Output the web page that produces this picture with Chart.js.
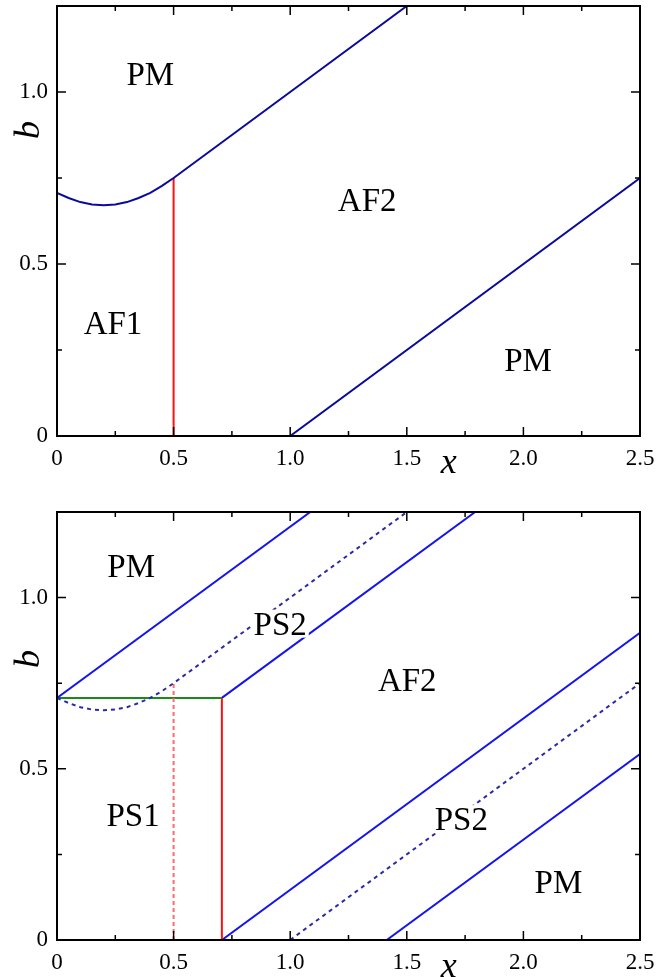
<!DOCTYPE html>
<html>
<head>
<meta charset="utf-8">
<script src="https://cdn.jsdelivr.net/npm/chart.js@4"></script>
<style>
  body { margin: 0; background: #fff; }
  canvas { position: absolute; left: 0; }
  #top { top: 0; }
  #bottom { top: 490px; }
</style>
</head>
<body>
<canvas id="top" width="672" height="490"></canvas>
<canvas id="bottom" width="672" height="487"></canvas>
<script>
// ticks
const xTicks = [0, 0.5, 1.0, 1.5, 2.0, 2.5];
const xTickLabels = ["0", "0.5", "1.0", "1.5", "2.0", "2.5"];
const xMinor = [0.25, 0.75, 1.25, 1.75, 2.25];
const yTicks = [0, 0.5, 1.0];
const yTickLabels = ["0", "0.5", "1.0"];
const yMinor = [0.25, 0.75];

// top panel
const topUpperX = [0, 0.05, 0.1, 0.15, 0.2, 0.25, 0.3, 0.35, 0.4, 0.45, 0.5, 1.5];
const topUpperB = [0.707, 0.692, 0.680, 0.673, 0.671, 0.673, 0.680, 0.692, 0.707, 0.727, 0.75, 1.25];
const topLowerX = [1.0, 2.5];
const topLowerB = [0, 0.75];
const topRedX = [0.5, 0.5];
const topRedB = [0, 0.75];
const topRegions = ["PM", "AF2", "AF1", "PM"];
const topRegionX = [0.40, 1.33, 0.24, 2.02];
const topRegionB = [1.052, 0.686, 0.328, 0.221];

// bottom panel
const pmUpperX = [0, 1.086];
const pmUpperB = [0.707, 1.25];
const dashUpperX = [0, 0.05, 0.1, 0.15, 0.2, 0.25, 0.3, 0.35, 0.4, 0.45, 0.5, 1.5];
const dashUpperB = [0.707, 0.692, 0.680, 0.673, 0.671, 0.673, 0.680, 0.692, 0.707, 0.727, 0.75, 1.25];
const greenX = [0, 0.707];
const greenB = [0.707, 0.707];
const redSolidX = [0.707, 0.707];
const redSolidB = [0, 0.707];
const redDashX = [0.5, 0.5];
const redDashB = [0, 0.75];
const af2UpperX = [0.707, 1.793];
const af2UpperB = [0.707, 1.25];
const af2LowerX = [0.707, 2.5];
const af2LowerB = [0, 0.897];
const dashLowerX = [1.0, 2.5];
const dashLowerB = [0, 0.75];
const pmLowerX = [1.414, 2.5];
const pmLowerB = [0, 0.543];
const botRegions = ["PM", "PS2", "AF2", "PS1", "PS2", "PM"];
const botRegionX = [0.318, 0.957, 1.502, 0.326, 1.734, 2.15];
const botRegionB = [1.093, 0.924, 0.758, 0.364, 0.353, 0.169];

function pts(xs, bs) {
  return xs.map((v, i) => ({ x: v, y: bs[i] }));
}

function line(xs, bs, color, dash) {
  return {
    data: pts(xs, bs),
    showLine: true,
    borderColor: color,
    borderWidth: 2,
    borderDash: dash || [],
    pointRadius: 0,
    tension: 0,
    fill: false
  };
}

const SERIF = "'Liberation Serif', 'Times New Roman', serif";

const framePlugin = {
  id: "frame",
  afterDatasetsDraw(chart) {
    const { ctx, chartArea: a, scales: { x, y } } = chart;
    ctx.save();
    ctx.strokeStyle = "#000";
    ctx.lineWidth = 1.5;
    ctx.beginPath();
    xTicks.forEach(v => {
      const p = x.getPixelForValue(v);
      ctx.moveTo(p, a.bottom); ctx.lineTo(p, a.bottom - 9);
      ctx.moveTo(p, a.top); ctx.lineTo(p, a.top + 9);
    });
    xMinor.forEach(v => {
      const p = x.getPixelForValue(v);
      ctx.moveTo(p, a.bottom); ctx.lineTo(p, a.bottom - 5);
      ctx.moveTo(p, a.top); ctx.lineTo(p, a.top + 5);
    });
    yTicks.forEach(v => {
      const p = y.getPixelForValue(v);
      ctx.moveTo(a.left, p); ctx.lineTo(a.left + 9, p);
      ctx.moveTo(a.right, p); ctx.lineTo(a.right - 9, p);
    });
    yMinor.forEach(v => {
      const p = y.getPixelForValue(v);
      ctx.moveTo(a.left, p); ctx.lineTo(a.left + 5, p);
      ctx.moveTo(a.right, p); ctx.lineTo(a.right - 5, p);
    });
    ctx.stroke();
    ctx.lineWidth = 2;
    ctx.strokeRect(a.left, a.top, a.right - a.left, a.bottom - a.top);

    // region names
    const o = chart.options.plugins.frame;
    ctx.font = "33px " + SERIF;
    ctx.textAlign = "center";
    ctx.textBaseline = "alphabetic";
    o.names.forEach((t, i) => {
      const px = x.getPixelForValue(o.nx[i]);
      const py = y.getPixelForValue(o.nb[i]);
      const w = ctx.measureText(t).width;
      ctx.fillStyle = "#fff";
      ctx.fillRect(px - w / 2 - 2, py - 14, w + 4, 28);
      ctx.fillStyle = "#000";
      ctx.fillText(t, px, py + 11);
    });

    // axis titles
    ctx.font = "italic 36px " + SERIF;
    ctx.fillText("x", x.getPixelForValue(1.68), a.bottom + 37);
    ctx.save();
    ctx.translate(30, a.top + o.bTitle);
    ctx.rotate(-Math.PI / 2);
    ctx.textBaseline = "middle";
    ctx.fillText("b", 0, 0);
    ctx.restore();
    ctx.restore();
  }
};

function makeChart(id, datasets, names, nx, nb, padTop, xHeight, bTitle) {
  return new Chart(document.getElementById(id), {
    type: "scatter",
    data: { datasets: datasets },
    options: {
      responsive: false,
      animation: false,
      layout: { padding: { left: 0, right: 32, top: padTop, bottom: 0 } },
      plugins: {
        legend: { display: false },
        tooltip: { enabled: false },
        frame: { names: names, nx: nx, nb: nb, bTitle: bTitle }
      },
      scales: {
        x: {
          type: "linear",
          min: 0,
          max: 2.5,
          afterBuildTicks: s => { s.ticks = xTicks.map(v => ({ value: v })); },
          afterFit: s => { s.height = xHeight; s.paddingLeft = 0; s.paddingRight = 0; },
          grid: { display: false, drawTicks: false },
          border: { display: false },
          ticks: {
            padding: 9,
            color: "#000",
            font: { family: SERIF, size: 23 },
            maxRotation: 0,
            autoSkip: false,
            callback: (v, i) => xTickLabels[i]
          }
        },
        y: {
          type: "linear",
          min: 0,
          max: 1.25,
          afterBuildTicks: s => { s.ticks = yTicks.map(v => ({ value: v })); },
          afterFit: s => { s.width = 57; s.paddingTop = 0; s.paddingBottom = 0; },
          grid: { display: false, drawTicks: false },
          border: { display: false },
          ticks: {
            padding: 9,
            color: "#000",
            font: { family: SERIF, size: 23 },
            autoSkip: false,
            callback: (v, i) => yTickLabels[i]
          }
        }
      }
    },
    plugins: [framePlugin]
  });
}

const NAVY = "#0a0a9c";
const BLUE = "#1414f0";
const RED = "#ff1010";

makeChart("top", [
  line(topUpperX, topUpperB, NAVY),
  line(topLowerX, topLowerB, NAVY),
  line(topRedX, topRedB, RED)
], topRegions, topRegionX, topRegionB, 6, 54, 124);

makeChart("bottom", [
  line(dashUpperX, dashUpperB, "#2a2aa8", [4, 4]),
  line(redDashX, redDashB, "#ff6a6a", [4, 3]),
  line(pmUpperX, pmUpperB, BLUE),
  line(greenX, greenB, "#1a8a1a"),
  line(redSolidX, redSolidB, RED),
  line(af2UpperX, af2UpperB, BLUE),
  line(af2LowerX, af2LowerB, BLUE),
  line(dashLowerX, dashLowerB, "#2a2aa8", [4, 4]),
  line(pmLowerX, pmLowerB, BLUE)
], botRegions, botRegionX, botRegionB, 22, 37, 147);
</script>
</body>
</html>
